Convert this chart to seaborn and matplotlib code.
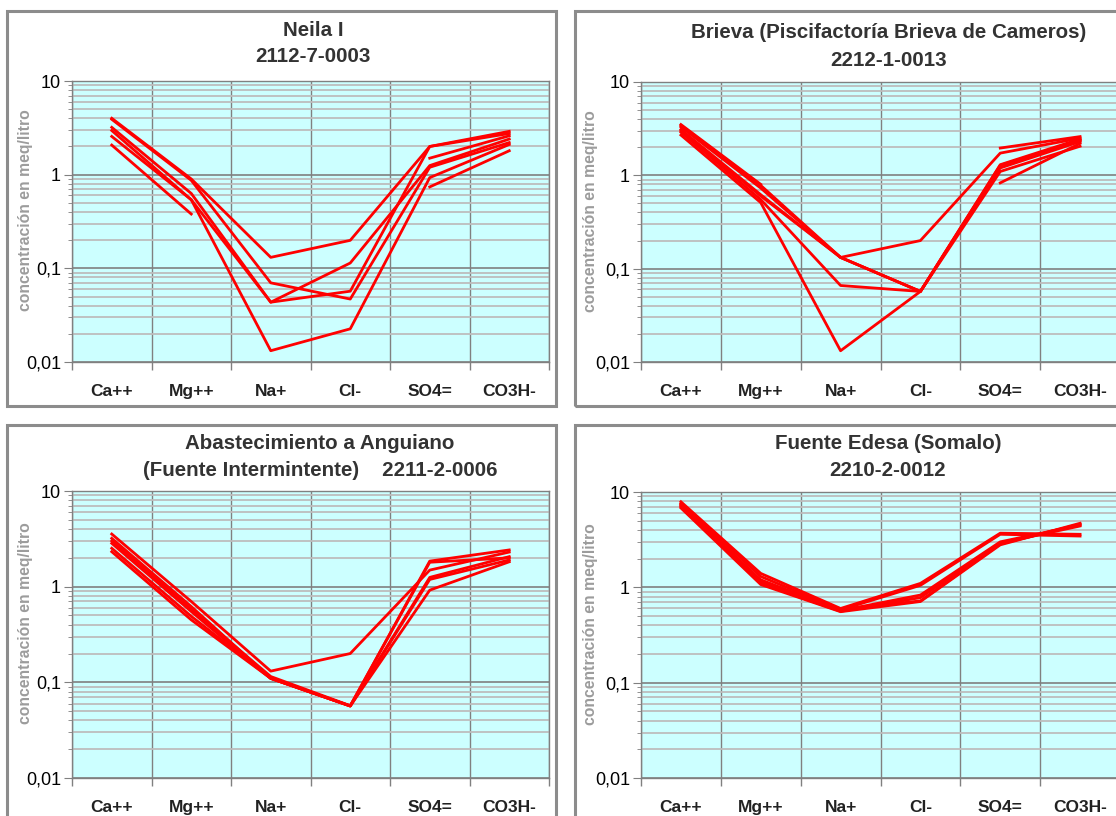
import numpy as np
import pandas as pd
import matplotlib.pyplot as plt
import seaborn as sns
from matplotlib.patches import Rectangle
from matplotlib.ticker import FixedLocator, NullFormatter, FuncFormatter, LogLocator

nan = np.nan

# iones del diagrama de Schoeller
ions = ['Ca++', 'Mg++', 'Na+', 'Cl-', 'SO4=', 'CO3H-']

# concentraciones (meq/l), una fila por análisis
neila = [
    [4.0, 0.90, 0.131, 0.199, 2.0, 2.9],
    [3.9, 0.87, 0.070, 0.047, 1.2, 2.2],
    [3.2, 0.63, 0.0435, 0.114, 1.25, 2.4],
    [2.96, 0.54, 0.0435, 0.057, 2.0, 2.75],
    [2.56, 0.54, 0.0132, 0.0226, 0.93, 2.1],
    [2.07, 0.38, nan, nan, 1.5, 2.6],
    [nan, nan, nan, nan, 0.74, 1.8],
]
brieva = [
    [3.5, 0.80, nan, nan, nan, nan],
    [3.4, 0.78, 0.132, 0.2, 1.73, 2.5],
    [3.3, 0.73, 0.132, 0.057, 1.3, 2.45],
    [3.1, 0.62, 0.132, 0.057, 1.25, 2.4],
    [3.0, 0.60, 0.132, 0.057, 1.28, 2.35],
    [2.9, 0.55, 0.066, 0.057, 1.2, 2.3],
    [2.7, 0.51, 0.0132, 0.057, 1.1, 2.05],
    [nan, nan, nan, nan, 1.96, 2.6],
    [nan, nan, nan, nan, 0.83, 2.2],
]
anguiano = [
    [3.55, 0.70, 0.131, 0.2, 1.49, 2.3],
    [3.2, 0.62, 0.11, 0.0566, 1.85, 2.42],
    [3.0, 0.58, 0.115, 0.057, 1.8, 2.0],
    [2.84, 0.55, 0.11, 0.0566, 1.25, 2.06],
    [2.52, 0.49, 0.11, 0.0566, 1.19, 1.9],
    [2.32, 0.45, 0.11, 0.0566, 0.92, 1.82],
]
edesa = [
    [7.9, 1.40, 0.60, 1.10, 3.7, 3.6],
    [7.6, 1.30, 0.58, 1.05, 3.6, 3.45],
    [7.4, 1.15, 0.59, 0.72, 2.85, 4.6],
    [7.2, 1.20, 0.57, 0.83, 3.0, 4.5],
    [7.0, 1.10, 0.56, 0.78, 2.9, 4.4],
    [6.8, 1.07, 0.555, 0.71, 2.79, 4.7],
]

titles = [
    'Neila I\n2112-7-0003',
    'Brieva (Piscifactoría Brieva de Cameros)\n2212-1-0013',
    'Abastecimiento a Anguiano\n(Fuente Intermintente)    2211-2-0006',
    'Fuente Edesa (Somalo)\n2210-2-0012',
]
ylabel = 'concentración en meq/litro'
ytick_text = {0.01: '0,01', 0.1: '0,1', 1: '1', 10: '10'}

plt.rcParams['font.family'] = ['Liberation Sans', 'DejaVu Sans']

W, H = 1116, 816
fig = plt.figure(figsize=(W / 100, H / 100), dpi=100)


def to_long(rows):
    # cada tramo continuo sin huecos es una unidad propia
    recs = []
    unit = 0
    for row in rows:
        unit += 1
        for i, v in enumerate(row):
            if np.isnan(v):
                unit += 1
                continue
            recs.append({'pos': i, 'val': v, 'unit': unit})
    return pd.DataFrame(recs)


def px_rect(l, t, r, b):
    return [l / W, 1 - b / H, (r - l) / W, (b - t) / H]


# (datos, caja de ejes, marco, centro x del título, y del título, x etiqueta y)
panels = [
    (neila, (72, 81, 549, 362), (7, 11, 556, 406), 313, 30, 26),
    (brieva, (641, 82, 1120, 362), (575, 11, 1135, 406), 889, 33, 590),
    (anguiano, (72, 491, 549, 778), (7, 425, 556, 840), 320, 444, 26),
    (edesa, (641, 492, 1120, 778), (575, 425, 1135, 840), 888, 444, 590),
]

for k, (rows, ax_box, frame, tx, ty, lx) in enumerate(panels):
    l, t, r, b = frame
    fig.add_artist(Rectangle((l / W, 1 - b / H), (r - l) / W, (b - t) / H,
                             transform=fig.transFigure, fill=False,
                             edgecolor='#8c8c8c', lw=2.2))

    ax = fig.add_axes(px_rect(*ax_box))
    ax.set_facecolor('#CCFFFF')
    ax.set_axisbelow(True)

    df = to_long(rows)
    sns.lineplot(data=df, x='pos', y='val', units='unit', estimator=None,
                 sort=False, color='#FF0000', lw=2, legend=False, ax=ax)

    ax.set_yscale('log')
    ax.set_ylim(0.01, 10)
    ax.set_xlim(-0.5, 5.5)
    ax.set_xlabel('')
    ax.set_ylabel('')

    ax.set_xticks(range(len(ions)))
    ax.set_xticklabels(ions, fontweight='bold', fontsize=12.5, color='#222222')
    ax.xaxis.set_minor_locator(FixedLocator(np.arange(-0.5, 6, 1)))
    ax.tick_params(axis='x', which='major', length=0, pad=16)
    ax.tick_params(axis='x', which='minor', length=6, color='#808080', width=1)

    ax.yaxis.set_major_locator(FixedLocator([0.01, 0.1, 1, 10]))
    ax.yaxis.set_major_formatter(FuncFormatter(lambda v, p: ytick_text.get(round(v, 2), '')))
    ax.yaxis.set_minor_locator(LogLocator(base=10, subs=np.arange(2, 10)))
    ax.yaxis.set_minor_formatter(NullFormatter())
    ax.tick_params(axis='y', which='major', length=6, color='#808080', labelsize=13, pad=2)
    ax.tick_params(axis='y', which='minor', length=3, color='#808080')

    ax.grid(axis='x', which='minor', color='#808080', lw=1)
    ax.grid(axis='x', which='major', visible=False)
    ax.grid(axis='y', which='major', color='#808080', lw=1.2)
    ax.grid(axis='y', which='minor', color='#BDBDBD', lw=1.3)
    for s in ax.spines.values():
        s.set_color('#808080')
        s.set_linewidth(1)

    line1, line2 = titles[k].split('\n')
    fig.text(tx / W, 1 - ty / H, line1, ha='center', va='center',
             fontsize=14.8, fontweight='bold', color='#333333')
    fig.text(tx / W, 1 - (ty + 27) / H, line2, ha='center', va='center',
             fontsize=14.8, fontweight='bold', color='#333333')

    yc = (ax_box[1] + ax_box[3]) / 2 - 11
    fig.text(lx / W, 1 - yc / H, ylabel, rotation=90, ha='center', va='center',
             fontsize=11.3, fontweight='bold', color='#9C9C9C')

fig.savefig('out.png', dpi=100)
